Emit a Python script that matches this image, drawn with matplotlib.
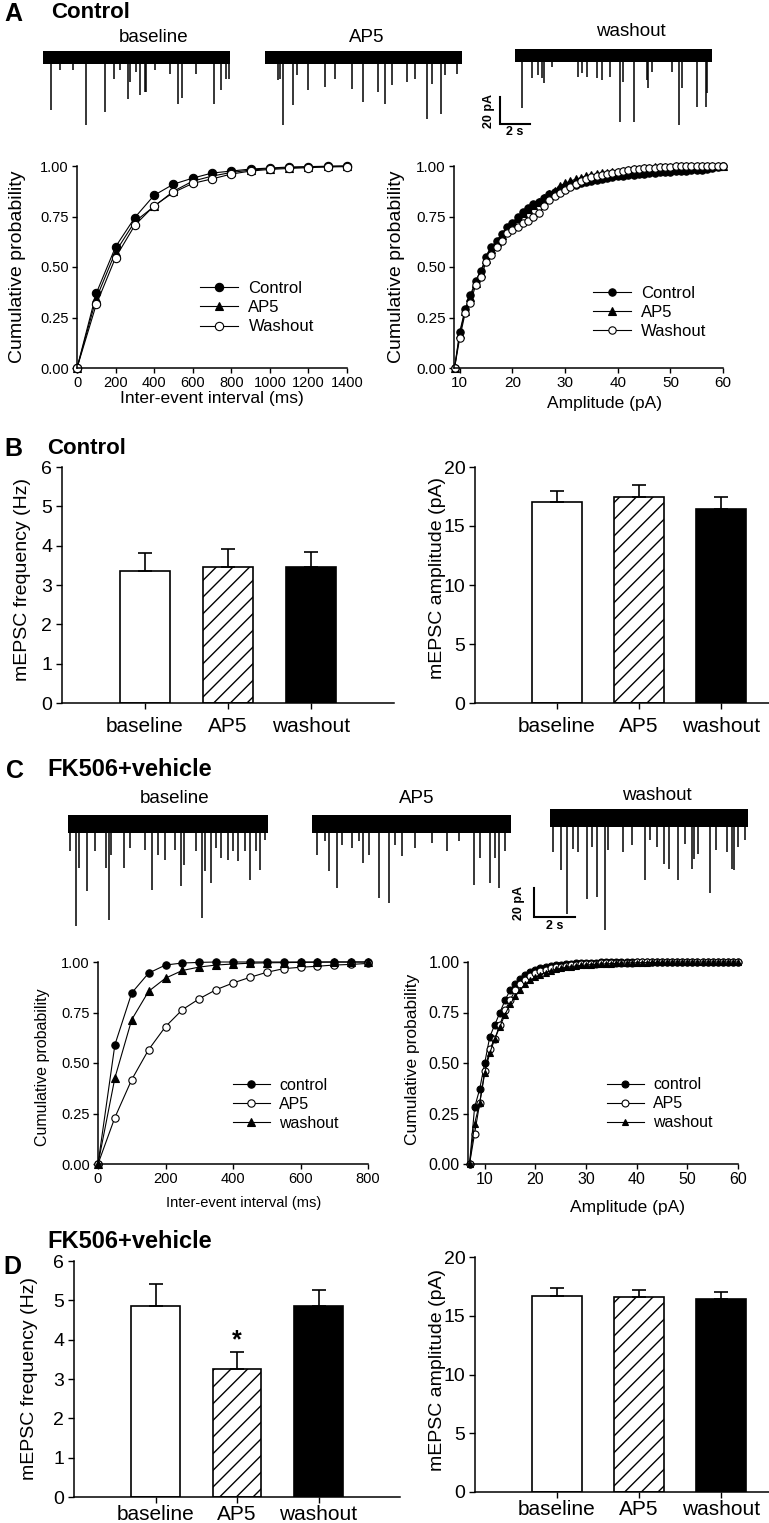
import numpy as np
import matplotlib
matplotlib.use("Agg")
import matplotlib.pyplot as plt
from matplotlib.ticker import FormatStrFormatter

plt.rcParams['font.family'] = ['Liberation Sans', 'DejaVu Sans']
NARROW = ['Liberation Sans Narrow', 'Liberation Sans', 'DejaVu Sans']

# ---------------- data ----------------
groups = ["baseline", "AP5", "washout"]

# A: cumulative inter-event interval (ms)
a_ivl_x = [0, 100, 200, 300, 400, 500, 600, 700, 800, 900, 1000, 1100, 1200, 1300, 1400]
a_ivl_control = [0, 0.37, 0.60, 0.745, 0.855, 0.91, 0.94, 0.965, 0.975, 0.985, 0.99, 0.995, 0.997, 0.999, 1.0]
a_ivl_ap5 = [0, 0.345, 0.575, 0.725, 0.80, 0.875, 0.925, 0.95, 0.968, 0.98, 0.987, 0.992, 0.995, 0.998, 1.0]
a_ivl_wash = [0, 0.315, 0.547, 0.707, 0.803, 0.869, 0.914, 0.936, 0.96, 0.975, 0.983, 0.988, 0.992, 0.995, 0.997]

# A: cumulative amplitude (pA), 9..60
a_amp_x = list(range(9, 61))
a_amp_control = [0, 0.18, 0.29, 0.36, 0.43, 0.48, 0.55, 0.60, 0.63, 0.665,
                 0.70, 0.72, 0.75, 0.77, 0.79, 0.81, 0.82, 0.84, 0.86, 0.87,
                 0.885, 0.895, 0.90, 0.905, 0.915, 0.92, 0.928, 0.933, 0.938, 0.942,
                 0.947, 0.95, 0.952, 0.955, 0.957, 0.96, 0.962, 0.964, 0.966, 0.968,
                 0.97, 0.972, 0.974, 0.975, 0.977, 0.978, 0.98, 0.982, 0.985, 0.99,
                 0.995, 1.0]
a_amp_ap5 = [0, 0.17, 0.28, 0.35, 0.42, 0.47, 0.54, 0.59, 0.625, 0.66,
             0.695, 0.715, 0.745, 0.765, 0.785, 0.805, 0.82, 0.84, 0.86, 0.875,
             0.90, 0.915, 0.925, 0.935, 0.942, 0.95, 0.955, 0.96, 0.963, 0.966,
             0.969, 0.972, 0.976, 0.98, 0.984, 0.987, 0.989, 0.991, 0.993, 0.995,
             0.996, 0.997, 0.998, 0.999, 1.0, 1.0, 1.0, 1.0, 1.0, 1.0,
             1.0, 1.0]
a_amp_wash = [0, 0.15, 0.27, 0.32, 0.41, 0.45, 0.525, 0.56, 0.60, 0.63,
              0.67, 0.685, 0.70, 0.72, 0.73, 0.75, 0.765, 0.80, 0.83, 0.85,
              0.865, 0.88, 0.895, 0.91, 0.925, 0.935, 0.945, 0.95, 0.955, 0.96,
              0.965, 0.97, 0.975, 0.98, 0.983, 0.986, 0.988, 0.99, 0.992, 0.994,
              0.996, 0.997, 0.998, 0.999, 1.0, 1.0, 1.0, 1.0, 1.0, 1.0,
              1.0, 1.0]

# B: control bars
b_freq = [3.35, 3.45, 3.47]
b_freq_err = [0.47, 0.47, 0.38]
b_amp = [17.0, 17.45, 16.45]
b_amp_err = [1.0, 1.05, 1.05]

# C: cumulative inter-event interval (ms)
c_ivl_x = [0, 50, 100, 150, 200, 250, 300, 350, 400, 450, 500, 550, 600, 650, 700, 750, 800]
c_ivl_control = [0, 0.59, 0.847, 0.945, 0.985, 0.995, 0.998, 1.0, 1.0, 1.0, 1.0, 1.0, 1.0, 1.0, 1.0, 1.0, 1.0]
c_ivl_ap5 = [0, 0.23, 0.418, 0.566, 0.68, 0.764, 0.818, 0.863, 0.896, 0.924, 0.949, 0.967, 0.974, 0.979, 0.985, 0.988, 0.993]
c_ivl_wash = [0, 0.426, 0.715, 0.855, 0.92, 0.958, 0.975, 0.985, 0.99, 0.994, 0.996, 0.997, 0.998, 0.999, 1.0, 1.0, 1.0]

# C: cumulative amplitude (pA), 7..60
c_amp_x = list(range(7, 61))
c_amp_control = [0, 0.28, 0.37, 0.50, 0.63, 0.69, 0.75, 0.81, 0.86, 0.89,
                 0.915, 0.935, 0.95, 0.96, 0.968, 0.975, 0.98, 0.984, 0.987, 0.99,
                 0.992, 0.994, 0.995, 0.996, 0.997, 0.997, 0.998, 0.998, 0.999, 0.999,
                 1.0, 1.0, 1.0, 1.0, 1.0, 1.0, 1.0, 1.0, 1.0, 1.0,
                 1.0, 1.0, 1.0, 1.0, 1.0, 1.0, 1.0, 1.0, 1.0, 1.0,
                 1.0, 1.0, 1.0, 1.0]
c_amp_ap5 = [0, 0.15, 0.30, 0.46, 0.57, 0.62, 0.69, 0.76, 0.81, 0.86,
             0.89, 0.91, 0.93, 0.945, 0.955, 0.962, 0.968, 0.973, 0.977, 0.98,
             0.983, 0.986, 0.988, 0.99, 0.991, 0.992, 0.993, 0.994, 0.995, 0.996,
             0.996, 0.997, 0.997, 0.998, 0.998, 0.998, 0.999, 0.999, 0.999, 0.999,
             1.0, 1.0, 1.0, 1.0, 1.0, 1.0, 1.0, 1.0, 1.0, 1.0,
             1.0, 1.0, 1.0, 1.0]
c_amp_wash = [0, 0.20, 0.30, 0.45, 0.55, 0.62, 0.68, 0.74, 0.79, 0.83,
              0.86, 0.89, 0.91, 0.925, 0.938, 0.948, 0.956, 0.963, 0.968, 0.973,
              0.977, 0.98, 0.983, 0.985, 0.987, 0.989, 0.99, 0.991, 0.992, 0.993,
              0.994, 0.995, 0.996, 0.996, 0.997, 0.997, 0.998, 0.998, 0.999, 0.999,
              1.0, 1.0, 1.0, 1.0, 1.0, 1.0, 1.0, 1.0, 1.0, 1.0,
              1.0, 1.0, 1.0, 1.0]

# D: FK506+vehicle bars
d_freq = [4.85, 3.25, 4.85]
d_freq_err = [0.56, 0.43, 0.41]
d_amp = [16.65, 16.6, 16.4]
d_amp_err = [0.75, 0.6, 0.65]

# example traces: event times (s) and amplitudes (pA)
a_base_t = [0.56, 1.11, 2.0, 2.84, 4.16, 4.71, 5.11, 5.67, 5.82, 6.22, 6.49, 6.78, 6.89, 7.44, 8.49, 9.0, 9.29, 10.22, 11.4, 11.89, 12.22, 12.4]
a_base_a = [39.5, 9.9, 9.9, 50.6, 40.7, 16, 9.9, 30.9, 18.5, 11, 27.9, 25.9, 25.9, 9.9, 12.3, 34.6, 30.4, 12.3, 34.6, 24.7, 16, 16]
a_ap5_t = [0.89, 1.0, 1.18, 1.89, 2.11, 2.89, 4.0, 4.67, 5.78, 6.56, 7.56, 8.0, 8.44, 9.44, 10.0, 10.78, 11.11, 11.73, 12.0, 12.78]
a_ap5_a = [17.3, 16, 50.6, 35.8, 13.6, 24.7, 22.2, 16, 23.5, 33.3, 25.9, 34.6, 21, 18.5, 16, 45.7, 19.8, 42, 13.6, 12.3]
a_wash_t = [0.49, 1.16, 1.56, 1.78, 1.96, 2.44, 4.22, 4.44, 4.78, 5.44, 5.78, 6.33, 7.0, 7.18, 7.96, 8.78, 8.89, 9.11, 10.44, 10.93, 11.11, 12.11, 12.71, 12.78]
a_wash_a = [39.5, 17.3, 14.8, 17.3, 21, 8.6, 16, 13.6, 16, 17.3, 18.5, 16, 49.4, 19.8, 49.4, 18.5, 24.7, 12.3, 12.3, 51.9, 24.7, 38.3, 38.3, 28.4]
c_base_t = [0.08, 0.41, 0.52, 0.94, 1.3, 1.87, 1.98, 2.11, 2.73, 3.01, 3.74, 4.1, 4.39, 4.72, 5.2, 5.5, 5.64, 6.26, 6.55, 6.67, 6.99, 7.24, 7.48, 7.8, 8.05, 8.29, 8.62, 8.89, 9.19, 9.37, 9.59]
c_base_a = [19.5, 71.3, 31, 47.1, 19.5, 31, 66.7, 21.8, 31, 17.2, 18.4, 46, 21.8, 25.3, 18.4, 43.7, 28.7, 19.5, 65.5, 33.3, 41.4, 17.2, 24.1, 25.3, 19.5, 26.4, 19.5, 39.1, 19.5, 32.2, 11.5]
c_ap5_t = [0.24, 0.65, 0.81, 1.22, 1.46, 1.95, 2.28, 2.49, 2.8, 3.28, 3.74, 4.07, 4.39, 5.04, 5.85, 6.59, 7.15, 7.89, 8.21, 8.7, 8.94, 9.14, 9.43]
c_ap5_a = [21.8, 12.6, 33.3, 44.8, 14.9, 17.2, 12.6, 27.6, 21.8, 51.7, 55.2, 14.9, 23, 17.2, 13.8, 19.5, 12.6, 42.5, 24.1, 41.4, 24.1, 44.8, 19.5]
c_wash_t = [0.16, 0.52, 0.85, 1.14, 1.38, 1.79, 2.03, 2.28, 2.68, 2.85, 3.54, 3.98, 4.63, 4.88, 5.2, 5.56, 5.82, 6.26, 6.59, 6.91, 7.02, 7.24, 7.8, 8.1, 8.62, 8.86, 8.98, 9.19, 9.51]
c_wash_a = [24.1, 36.8, 66.7, 21.8, 24.1, 56.3, 20.7, 55.2, 78.2, 23, 24.1, 19.5, 43.7, 16.1, 20.7, 32.2, 35.6, 43.7, 18.4, 35.6, 28.7, 25.3, 52.4, 23, 24.1, 35.6, 36.8, 20.7, 16.1]

# ---------------- figure ----------------
W, H = 769, 1523
fig = plt.figure(figsize=(W / 100, H / 100), dpi=100)


def place(x0, y0, x1, y1):
    # pixel box (top-left origin) -> figure axes
    return fig.add_axes([x0 / W, 1 - y1 / H, (x1 - x0) / W, (y1 - y0) / H])


def ftext(x, y, s, **kw):
    fig.text(x / W, 1 - y / H, s, ha=kw.pop('ha', 'center'), va=kw.pop('va', 'center'), **kw)


def trace(box, T, pxs, pxa, times, amps, band):
    x0, yc = box
    ax = place(x0, yc - 12 * pxa, x0 + T * pxs, yc + 85 * pxa)
    ax.set_xlim(0, T)
    ax.set_ylim(-85, 12)
    ax.axis('off')
    ax.fill_between([0, T], band[0], band[1], color='black', lw=0)
    ax.vlines(times, 0, -np.array(amps), color='black', lw=1.1)


def scalebar(x0, y0, pxs, pxa):
    ax = place(x0, y0, x0 + 2 * pxs, y0 + 20 * pxa)
    ax.set_xlim(0, 2)
    ax.set_ylim(-20, 0)
    ax.axis('off')
    ax.plot([0, 0, 2], [0, -20, -20], color='black', lw=1.5, clip_on=False,
            solid_joinstyle='miter')
    ax.text(-0.75, -10, '20 pA', rotation=90, ha='center', va='center',
            fontweight='bold', fontsize=9)
    ax.text(1.0, -26, '2 s', ha='center', va='center', fontweight='bold', fontsize=9)


def style_axes(ax):
    for s in ['top', 'right']:
        ax.spines[s].set_visible(False)
    for s in ['left', 'bottom']:
        ax.spines[s].set_linewidth(1.1)
    ax.tick_params(direction='out', length=3.5, width=1.0)


def cum_panel(ax, x, series, xlim, xticks, xlabel, tfs, xfs, yfs, lfs, ms,
              xlab_pos, ylab_pos, leg_pos):
    for lab, y, mk, face in series:
        ax.plot(x, y, color='black', lw=0.8, marker=mk, mfc=face, mec='black',
                mew=0.8, ms=ms, clip_on=False, label=lab)
    ax.set_xlim(*xlim)
    ax.set_ylim(0, 1)
    ax.set_xticks(xticks)
    ax.set_yticks([0, 0.25, 0.5, 0.75, 1.0])
    ax.yaxis.set_major_formatter(FormatStrFormatter('%.2f'))
    style_axes(ax)
    ax.tick_params(labelsize=tfs, pad=2.5)
    ax.set_xlabel(xlabel, fontsize=xfs)
    ax.set_ylabel('Cumulative probability', fontsize=yfs)
    ax.xaxis.set_label_coords(*xlab_pos)
    ax.yaxis.set_label_coords(*ylab_pos)
    ax.xaxis.label.set_va('center')
    ax.yaxis.label.set_va('center')
    ax.legend(loc='upper left', bbox_to_anchor=leg_pos, frameon=False,
              fontsize=lfs, handlelength=2.3, handletextpad=0.6,
              labelspacing=0.25, borderaxespad=0, borderpad=0)


def bar_panel(ax, means, errs, ymax, yticks, ylabel, ylab_pos, xpad):
    x = np.arange(len(groups))
    bars = ax.bar(x, means, width=0.6, color=['white', 'white', 'black'],
                  edgecolor='black', lw=1.2, zorder=2)
    bars[1].set_hatch('//')
    ax.errorbar(x, means, yerr=[np.zeros(len(errs)), errs], fmt='none',
                ecolor='black', elinewidth=1.2, capsize=5, capthick=1.2, zorder=3)
    ax.set_xticks(x)
    ax.set_xticklabels(groups, family=NARROW, fontsize=15)
    ax.set_ylim(0, ymax)
    ax.set_yticks(yticks)
    ax.set_yticklabels([str(v) for v in yticks], family=NARROW, fontsize=14)
    style_axes(ax)
    ax.tick_params(axis='x', length=4, pad=xpad)
    ax.tick_params(axis='y', length=4, pad=3)
    ax.set_ylabel(ylabel, fontsize=14)
    ax.yaxis.set_label_coords(*ylab_pos)
    ax.yaxis.label.set_va('center')
    return x


# ---- panel A ----
ftext(13, 14, 'A', fontsize=18, fontweight='bold')
ftext(51, 12, 'Control', fontsize=16, fontweight='bold', ha='left')
trace((43, 57), 12.44, 15, 1.35, a_base_t, a_base_a, (-5, 4.5))
trace((265, 57), 13.1, 15, 1.35, a_ap5_t, a_ap5_a, (-5, 4.5))
trace((515, 55), 13.1, 15, 1.35, a_wash_t, a_wash_a, (-5, 4.5))
ftext(154, 37, 'baseline', fontsize=13.5)
ftext(367, 37, 'AP5', fontsize=13.5)
ftext(631, 31, 'washout', fontsize=13.5)
scalebar(500, 97, 15, 1.35)

ax = place(77, 166, 347, 368)
cum_panel(ax, a_ivl_x,
          [('Control', a_ivl_control, 'o', 'black'),
           ('AP5', a_ivl_ap5, '^', 'black'),
           ('Washout', a_ivl_wash, 'o', 'white')],
          (0, 1400), range(0, 1401, 200), 'Inter-event interval (ms)',
          10.5, 12.5, 14, 12, 6,
          (0.5, -0.152), (-0.219, 0.5), (0.456, 0.43))

ax = place(454, 166, 723, 368)
cum_panel(ax, a_amp_x,
          [('Control', a_amp_control, 'o', 'black'),
           ('AP5', a_amp_ap5, '^', 'black'),
           ('Washout', a_amp_wash, 'o', 'white')],
          (8.9, 60), range(10, 61, 10), 'Amplitude (pA)',
          11, 12.5, 14, 12, 5.3,
          (0.561, -0.175), (-0.212, 0.5), (0.517, 0.406))

# ---- panel B ----
ftext(13, 449, 'B', fontsize=18, fontweight='bold')
ftext(47, 449, 'Control', fontsize=16, fontweight='bold', ha='left')
ax = place(62, 467, 394, 703)
bar_panel(ax, b_freq, b_freq_err, 6, [0, 1, 2, 3, 4, 5, 6],
          'mEPSC frequency (Hz)', (-0.12, 0.525), 6)
ax.set_xlim(-1, 3)
ax = place(475, 467, 769, 703)
bar_panel(ax, b_amp, b_amp_err, 20, [0, 5, 10, 15, 20],
          'mEPSC amplitude (pA)', (-0.126, 0.53), 6)
ax.set_xlim(-1, 2.585)

# ---- panel C ----
ftext(15, 771, 'C', fontsize=18, fontweight='bold')
ftext(47, 770, 'FK506+vehicle', fontsize=17, fontweight='bold', ha='left')
trace((68, 823), 9.76, 20.5, 1.45, c_base_t, c_base_a, (-7, 5.5))
trace((312, 823), 9.72, 20.5, 1.45, c_ap5_t, c_ap5_a, (-7, 5.5))
trace((550, 817), 9.67, 20.5, 1.45, c_wash_t, c_wash_a, (-7, 5.5))
ftext(175, 798, 'baseline', fontsize=13.5)
ftext(417, 798, 'AP5', fontsize=13.5)
ftext(657, 795, 'washout', fontsize=13.5)
scalebar(534, 888, 20.5, 1.45)

ax = place(98, 962, 368, 1164)
cum_panel(ax, c_ivl_x,
          [('control', c_ivl_control, 'o', 'black'),
           ('AP5', c_ivl_ap5, 'o', 'white'),
           ('washout', c_ivl_wash, '^', 'black')],
          (0, 800), range(0, 801, 200), 'Inter-event interval (ms)',
          10.5, 10.5, 11.5, 11.5, 5.3,
          (0.54, -0.193), (-0.207, 0.48), (0.5, 0.426))

ax = place(468, 962, 738, 1164)
cum_panel(ax, c_amp_x,
          [('control', c_amp_control, 'o', 'black'),
           ('AP5', c_amp_ap5, 'o', 'white'),
           ('washout', c_amp_wash, '^', 'black')],
          (6.7, 60), range(10, 61, 10), 'Amplitude (pA)',
          11.5, 12.5, 12.5, 11.5, 5,
          (0.589, -0.213), (-0.207, 0.52), (0.515, 0.43))

# ---- panel D ----
ftext(12, 1267, 'D', fontsize=18, fontweight='bold')
ftext(47, 1241, 'FK506+vehicle', fontsize=17, fontweight='bold', ha='left')
ax = place(74, 1261, 400, 1497)
x = bar_panel(ax, d_freq, d_freq_err, 6, [0, 1, 2, 3, 4, 5, 6],
              'mEPSC frequency (Hz)', (-0.135, 0.5), 2)
ax.set_xlim(-1, 3)
ax.annotate('*', xy=(x[1], d_freq[1] + d_freq_err[1]), xytext=(0, 0),
            textcoords='offset points', ha='center', va='bottom',
            fontsize=18, fontweight='bold')
ax = place(475, 1257, 769, 1492)
bar_panel(ax, d_amp, d_amp_err, 20, [0, 5, 10, 15, 20],
          'mEPSC amplitude (pA)', (-0.126, 0.52), 2)
ax.set_xlim(-1, 2.585)

fig.savefig('out.png', dpi=100)
